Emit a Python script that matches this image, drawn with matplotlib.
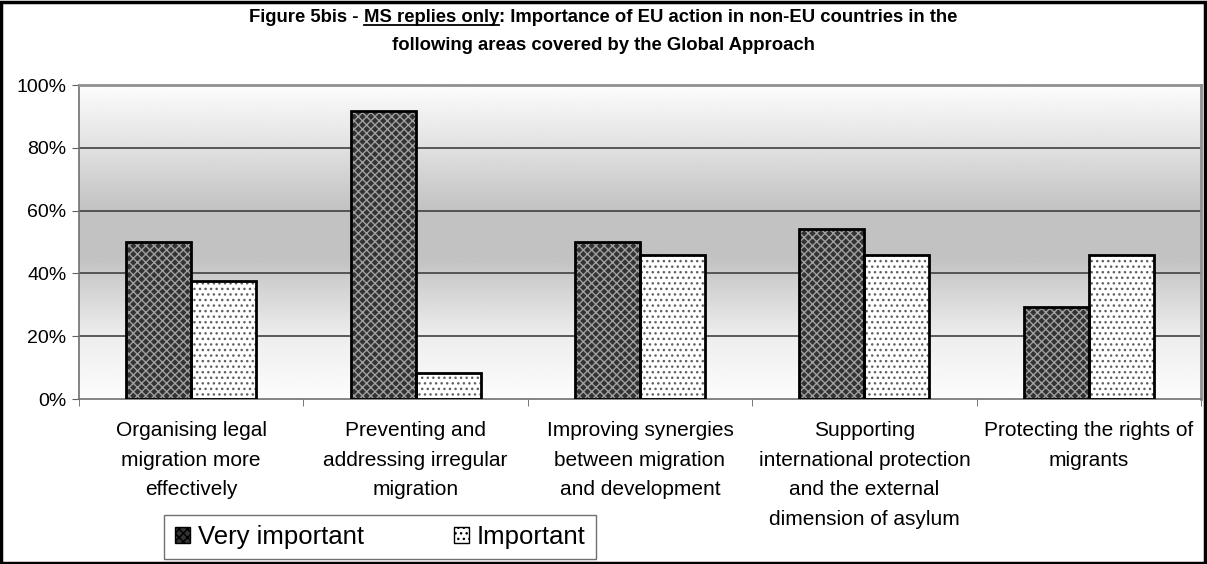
import numpy as np
import matplotlib.pyplot as plt
from matplotlib.patches import Rectangle, Patch

plt.rcParams['font.family'] = ['Liberation Sans', 'DejaVu Sans']

categories = [
    'Organising legal\nmigration more\neffectively',
    'Preventing and\naddressing irregular\nmigration',
    'Improving synergies\nbetween migration\nand development',
    'Supporting\ninternational protection\nand the external\ndimension of asylum',
    'Protecting the rights of\nmigrants',
]
very_important = [50.0, 91.7, 50.0, 54.2, 29.2]
important = [37.5, 8.3, 45.8, 45.8, 45.8]
yticks = [0, 20, 40, 60, 80, 100]

W, H = 1207, 564
fig = plt.figure(figsize=(W / 100, H / 100), dpi=100)
ax = fig.add_axes([79 / W, 1 - 399 / H, (1201 - 79) / W, (399 - 85) / H])

x = np.arange(len(categories))
bw = 0.29

# gradient background (white - grey - white)
yy = np.linspace(0, 1, 200)
shade = np.interp(yy, [0, 0.2, 0.45, 0.6, 0.8, 1.0], [0.99, 0.93, 0.76, 0.76, 0.88, 0.99])
img = np.repeat(shade[:, None], 2, axis=1)
ax.imshow(img, cmap='gray', vmin=0, vmax=1, origin='lower', aspect='auto',
          extent=[-0.5, len(categories) - 0.5, 0, 100], zorder=0)

for yv in yticks[1:-1]:
    ax.axhline(yv, color='#404040', lw=1.2, zorder=1)

# bars: hatch layer then black outline
ax.bar(x - bw / 2, very_important, bw, color='#333333', edgecolor='#a0a0a0',
       hatch='xxxx', lw=0, zorder=2)
ax.bar(x + bw / 2, important, bw, color='white', edgecolor='#606060',
       hatch='...', lw=0, zorder=2)
ax.bar(x - bw / 2, very_important, bw, fill=False, edgecolor='black', lw=2, zorder=3)
ax.bar(x + bw / 2, important, bw, fill=False, edgecolor='black', lw=2, zorder=3)

ax.set_xlim(-0.5, len(categories) - 0.5)
ax.set_ylim(0, 100)
ax.set_yticks(yticks)
ax.set_yticklabels([f'{v}%' for v in yticks], fontsize=14)
ax.set_xticks(np.arange(len(categories) + 1) - 0.5, minor=True)
ax.set_xticks(x)
ax.set_xticklabels(categories, fontsize=15, linespacing=1.7)
ax.tick_params(axis='x', which='major', length=0, pad=16)
ax.tick_params(axis='x', which='minor', length=5, color='#606060', direction='out')
ax.tick_params(axis='y', length=5, color='#606060', pad=4)
for s in ['left', 'bottom']:
    ax.spines[s].set_color('#707070')
    ax.spines[s].set_linewidth(1.2)
for s in ['top', 'right']:
    ax.spines[s].set_color('#909090')
    ax.spines[s].set_linewidth(2)

# title with underlined part
fig.canvas.draw()
r = fig.canvas.get_renderer()
tk = dict(fontsize=13.3, fontweight='bold', va='baseline')
parts = ['Figure 5bis - ', 'MS replies only', ': Importance of EU action in non-EU countries in the']
texts = [fig.text(0, 0, p, transform=None, **tk) for p in parts]
widths = [t.get_window_extent(r).width for t in texts]
x0 = W / 2 - sum(widths) / 2
base = H - 22
for t, w in zip(texts, widths):
    t.set_position((x0, base))
    x0 += w
ul_x0 = W / 2 - sum(widths) / 2 + widths[0]
fig.add_artist(plt.Line2D([ul_x0, ul_x0 + widths[1]], [base - 3, base - 3], transform=None,
                          color='black', lw=1.3))
fig.text(W / 2, H - 50, 'following areas covered by the Global Approach', transform=None,
         ha='center', **tk)

handles = [Patch(facecolor='#333333', edgecolor='black', hatch='xxxx', lw=1),
           Patch(facecolor='white', edgecolor='black', hatch='...', lw=1)]
leg = fig.legend(handles, ['Very important', 'Important'], loc='center',
                 bbox_to_anchor=(380 / W, 1 - 537 / H), ncol=2, fontsize=18.5,
                 fancybox=False, framealpha=1, edgecolor='#707070',
                 handlelength=0.6, handleheight=0.6, handletextpad=0.3,
                 columnspacing=3.5, borderpad=0.4, borderaxespad=0)
leg.get_frame().set_linewidth(1)

fig.add_artist(Rectangle((1, 1), W - 3, H - 3, transform=None, fill=False,
                         edgecolor='black', lw=2.5))

fig.savefig('out.png', dpi=100)
